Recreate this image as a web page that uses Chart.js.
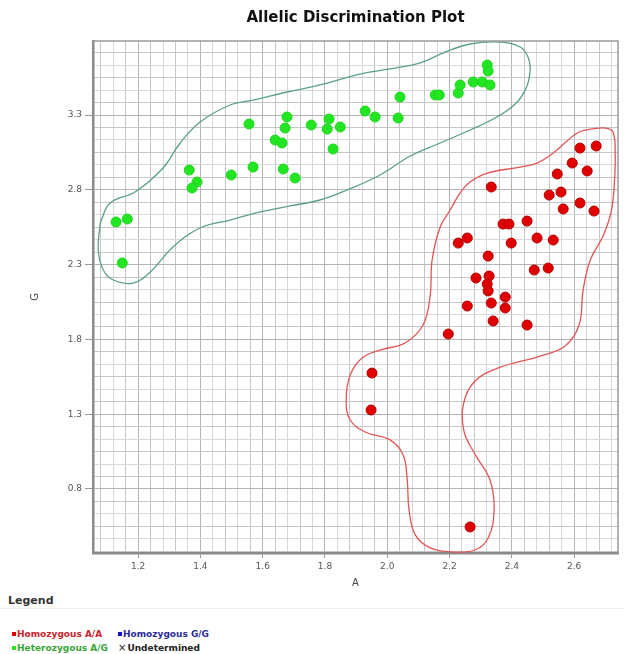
<!DOCTYPE html>
<html>
<head>
<meta charset="utf-8">
<script src="https://cdn.jsdelivr.net/npm/chart.js@4/dist/chart.umd.min.js"></script>
<style>
  html, body { margin: 0; padding: 0; background: #fff; }
  #wrap { position: relative; width: 624px; height: 592px; }
  #legend { font-family: "DejaVu Sans", Verdana, sans-serif; width: 624px; }
  #legend .lg-title { font-weight: bold; font-size: 11px; color: #333; height: 15px; line-height: 15px; padding-left: 8px; padding-top: 1px; border-bottom: 1px solid #f0f0f0; }
  #legend .lg-items { display: grid; grid-template-columns: 106px 160px; margin-top: 18px; padding-left: 12px; }
  #legend .lg-item { font-size: 9px; font-weight: bold; height: 14px; line-height: 14px; white-space: nowrap; }
  #legend .lg-mark { display: inline-block; width: 4px; height: 4px; margin-right: 1px; vertical-align: 1px; }
  #legend .lg-cross { display: inline-block; font-size: 10px; font-weight: normal; margin-right: 1px; }
</style>
</head>
<body>
<div id="wrap"><canvas id="plot" width="624" height="592"></canvas></div>
<div id="legend"></div>
<script>
// Plot title and axis names
const CHART_TITLE = 'Allelic Discrimination Plot';
const X_TITLE = 'A';
const Y_TITLE = 'G';
const LEGEND_TITLE = 'Legend';

// Axis ranges, labelled ticks and fine grid spacing
const X_MIN = 1.055, X_MAX = 2.741;
const Y_MIN = 0.372, Y_MAX = 3.795;
const X_TICK_LABELS = [1.2, 1.4, 1.6, 1.8, 2.0, 2.2, 2.4, 2.6];
const Y_TICK_LABELS = [0.8, 1.3, 1.8, 2.3, 2.8, 3.3];
const X_GRID_STEP = 0.04;
const Y_GRID_STEP = 0.5 / 6;

// Heterozygous A/G calls (allele A signal, allele G signal)
const hetAG_A = [1.129, 1.165, 1.149, 1.364, 1.389, 1.373, 1.499, 1.569, 1.556, 1.678, 1.672,
                 1.640, 1.662, 1.666, 1.704, 1.756, 1.813, 1.807, 1.849, 1.826, 1.929, 1.961,
                 2.035, 2.041, 2.154, 2.167, 2.228, 2.234, 2.276, 2.305, 2.321, 2.324, 2.330];
const hetAG_G = [2.585, 2.605, 2.311, 2.932, 2.852, 2.812, 2.899, 2.952, 3.240, 3.287, 3.213,
                 3.133, 3.113, 2.939, 2.879, 3.233, 3.273, 3.206, 3.220, 3.073, 3.327, 3.287,
                 3.280, 3.420, 3.434, 3.434, 3.447, 3.501, 3.521, 3.521, 3.634, 3.594, 3.501];

// Homozygous A/A calls
const homAA_A = [2.619, 2.671, 2.594, 2.642, 2.546, 2.334, 2.520, 2.558, 2.565, 2.619, 2.664,
                 2.372, 2.391, 2.449, 2.228, 2.257, 2.481, 2.533, 2.398, 2.324, 2.472, 2.517,
                 2.285, 2.327, 2.321, 2.324, 2.257, 2.334, 2.379, 2.379, 2.340, 2.449, 2.196,
                 1.951, 1.948, 2.266];
const homAA_G = [3.079, 3.093, 2.979, 2.926, 2.906, 2.819, 2.765, 2.785, 2.672, 2.712, 2.658,
                 2.571, 2.571, 2.591, 2.444, 2.478, 2.478, 2.464, 2.444, 2.357, 2.264, 2.277,
                 2.210, 2.224, 2.170, 2.124, 2.023, 2.043, 2.083, 2.010, 1.923, 1.896, 1.836,
                 1.575, 1.328, 0.546];

// Homozygous G/G and undetermined calls (none in this run)
const homGG_A = [], homGG_G = [];
const undet_A = [], undet_G = [];

// Cluster boundaries as [A, G] vertices, closed loops
const hetAG_outline = [[1.078,2.578],[1.110,2.712],[1.190,2.785],[1.280,2.946],[1.335,3.113],
  [1.399,3.253],[1.495,3.367],[1.569,3.400],[1.679,3.454],[1.784,3.501],[1.913,3.574],
  [2.025,3.614],[2.106,3.648],[2.186,3.721],[2.266,3.775],[2.363,3.788],[2.427,3.755],
  [2.452,3.688],[2.459,3.601],[2.446,3.480],[2.411,3.374],[2.346,3.280],[2.266,3.200],
  [2.170,3.113],[2.074,3.026],[1.977,2.899],[1.871,2.799],[1.784,2.732],[1.688,2.692],
  [1.592,2.652],[1.495,2.598],[1.399,2.545],[1.312,2.418],[1.239,2.251],[1.184,2.177],
  [1.120,2.197],[1.088,2.264],[1.072,2.398],[1.078,2.578]];
const homAA_outline = [[2.652,3.206],[2.610,3.180],[2.533,3.046],[2.481,2.979],[2.427,2.952],
  [2.321,2.912],[2.266,2.852],[2.234,2.779],[2.202,2.665],[2.170,2.551],[2.144,2.331],
  [2.138,2.097],[2.115,1.896],[2.057,1.776],[1.977,1.729],[1.919,1.676],[1.881,1.562],
  [1.868,1.395],[1.881,1.261],[1.929,1.181],[2.009,1.128],[2.051,1.027],[2.064,0.860],
  [2.070,0.660],[2.090,0.493],[2.138,0.406],[2.208,0.379],[2.282,0.392],[2.324,0.472],
  [2.343,0.660],[2.330,0.860],[2.285,1.021],[2.247,1.181],[2.244,1.362],[2.279,1.515],
  [2.356,1.609],[2.491,1.689],[2.571,1.756],[2.616,1.896],[2.629,2.130],[2.652,2.331],
  [2.693,2.491],[2.719,2.652],[2.729,2.832],[2.732,3.033],[2.725,3.186],[2.700,3.213],
  [2.652,3.206]];

const toPoints = (xs, ys) => xs.map((x, i) => ({ x: x, y: ys[i] }));
const toLoop = pairs => pairs.map(p => ({ x: p[0], y: p[1] }));

const isLabelled = (labels, v) => labels.some(l => Math.abs(l - v) < 1e-6);

// Fine grid: every step from the first labelled tick outwards to both ends of the axis
function gridTicks(labels, step, min, max) {
  const base = labels[0];
  const out = [];
  const kMin = Math.ceil((min - base) / step - 1e-9);
  const kMax = Math.floor((max - base) / step + 1e-9);
  for (let k = kMin; k <= kMax; k++) {
    let v = base + k * step;
    const hit = labels.find(l => Math.abs(l - v) < 1e-6);
    if (hit !== undefined) v = hit;
    out.push({ value: v });
  }
  return out;
}

function gridColor(labels, ctx) {
  const v = ctx.tick ? ctx.tick.value : null;
  if (v === null) return '#cccccc';
  if (isLabelled(labels, v)) return '#b4b4b4';
  return ctx.index % 2 === 0 ? '#c6c6c6' : '#d8d8d8';
}

const FONT = '"DejaVu Sans", Verdana, sans-serif';

// Title centred over the plotting area
const plotTitle = {
  id: 'plotTitle',
  afterDraw(chart) {
    const { ctx, chartArea } = chart;
    ctx.save();
    ctx.font = 'bold 15px ' + FONT;
    ctx.fillStyle = '#111';
    ctx.textAlign = 'center';
    ctx.textBaseline = 'middle';
    ctx.fillText(CHART_TITLE, (chartArea.left + chartArea.right) / 2, chartArea.top - 23);
    ctx.restore();
  }
};

// Frame around the plotting area (top and right edges)
const plotFrame = {
  id: 'plotFrame',
  afterDatasetsDraw(chart) {
    const { ctx, chartArea: a } = chart;
    ctx.save();
    ctx.strokeStyle = '#9a9a9a';
    ctx.lineWidth = 1.5;
    ctx.beginPath();
    ctx.moveTo(a.left, a.top);
    ctx.lineTo(a.right, a.top);
    ctx.lineTo(a.right, a.bottom);
    ctx.stroke();
    ctx.restore();
  }
};

const chart = new Chart(document.getElementById('plot'), {
  type: 'scatter',
  data: {
    datasets: [
      { label: 'Homozygous A/A', data: toPoints(homAA_A, homAA_G),
        backgroundColor: '#e00000', borderColor: '#b40000', borderWidth: 1,
        pointRadius: 5, pointHoverRadius: 5, legendColor: '#c8242c', order: 1 },
      { label: 'Homozygous G/G', data: toPoints(homGG_A, homGG_G),
        backgroundColor: '#1010c0', borderColor: '#1010c0', pointRadius: 5,
        legendColor: '#2b2b9b', order: 1 },
      { label: 'Heterozygous A/G', data: toPoints(hetAG_A, hetAG_G),
        backgroundColor: '#22e622', borderColor: '#1fd41f', borderWidth: 1,
        pointRadius: 5, pointHoverRadius: 5, legendColor: '#3aa63a', order: 1 },
      { label: 'Undetermined', data: toPoints(undet_A, undet_G),
        pointStyle: 'crossRot', borderColor: '#222', pointRadius: 5,
        legendColor: '#222', order: 1 },
      { label: 'A/G cluster', data: toLoop(hetAG_outline), showLine: true,
        borderColor: '#5b9e8e', borderWidth: 1.3, pointRadius: 0, pointHoverRadius: 0,
        tension: 0.4, fill: false, order: 2, outline: true },
      { label: 'A/A cluster', data: toLoop(homAA_outline), showLine: true,
        borderColor: '#e25555', borderWidth: 1.3, pointRadius: 0, pointHoverRadius: 0,
        tension: 0.4, fill: false, order: 2, outline: true }
    ]
  },
  options: {
    responsive: false,
    animation: false,
    events: [],
    layout: { padding: { top: 41, right: 6, left: 0, bottom: 0 } },
    plugins: { legend: { display: false }, title: { display: false }, tooltip: { enabled: false } },
    scales: {
      x: {
        type: 'linear', min: X_MIN, max: X_MAX,
        afterBuildTicks: s => { s.ticks = gridTicks(X_TICK_LABELS, X_GRID_STEP, X_MIN, X_MAX); },
        afterFit: s => { s.height = 39; },
        ticks: {
          autoSkip: false, maxRotation: 0, minRotation: 0, padding: 3,
          color: '#555', font: { family: FONT, size: 9 },
          callback: v => isLabelled(X_TICK_LABELS, v) ? v.toFixed(1) : ''
        },
        grid: {
          color: c => gridColor(X_TICK_LABELS, c), lineWidth: 1, tickLength: 5,
          tickColor: c => (c.tick && isLabelled(X_TICK_LABELS, c.tick.value)) ? '#999' : 'rgba(0,0,0,0)'
        },
        border: { display: true, color: '#8a8a8a', width: 2.5 },
        title: { display: true, text: X_TITLE, color: '#444', font: { family: FONT, size: 10 },
                 padding: { top: 0, bottom: 3 } }
      },
      y: {
        type: 'linear', min: Y_MIN, max: Y_MAX,
        afterBuildTicks: s => { s.ticks = gridTicks(Y_TICK_LABELS, Y_GRID_STEP, Y_MIN, Y_MAX); },
        afterFit: s => { s.width = 93; },
        ticks: {
          autoSkip: false, padding: 3,
          color: '#555', font: { family: FONT, size: 9 },
          callback: v => isLabelled(Y_TICK_LABELS, v) ? v.toFixed(1) : ''
        },
        grid: {
          color: c => gridColor(Y_TICK_LABELS, c), lineWidth: 1, tickLength: 8,
          tickColor: c => (c.tick && isLabelled(Y_TICK_LABELS, c.tick.value)) ? '#999' : 'rgba(0,0,0,0)'
        },
        border: { display: true, color: '#8a8a8a', width: 2.5 },
        title: { display: true, text: Y_TITLE, color: '#444', font: { family: FONT, size: 10 },
                 padding: { top: 29, bottom: 0 } }
      }
    }
  },
  plugins: [plotTitle, plotFrame]
});

// Legend panel built from the call datasets
(function buildLegend() {
  const box = document.getElementById('legend');
  const title = document.createElement('div');
  title.className = 'lg-title';
  title.textContent = LEGEND_TITLE;
  box.appendChild(title);
  const grid = document.createElement('div');
  grid.className = 'lg-items';
  chart.data.datasets.filter(d => !d.outline).forEach(d => {
    const item = document.createElement('div');
    item.className = 'lg-item';
    item.style.color = d.legendColor;
    const mark = document.createElement('span');
    if (d.pointStyle === 'crossRot') {
      mark.className = 'lg-cross';
      mark.textContent = '\u00d7';
    } else {
      mark.className = 'lg-mark';
      mark.style.background = d.backgroundColor;
    }
    item.appendChild(mark);
    item.appendChild(document.createTextNode(d.label));
    grid.appendChild(item);
  });
  box.appendChild(grid);
})();
</script>
</body>
</html>
